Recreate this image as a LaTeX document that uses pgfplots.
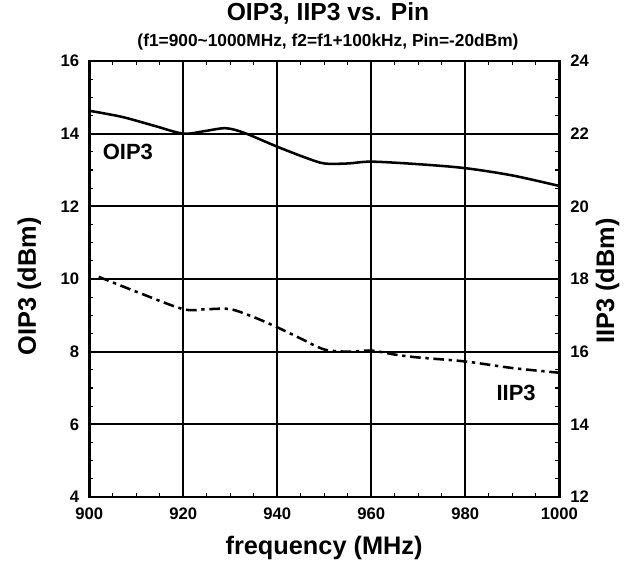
\documentclass[border=0pt]{standalone}
\usepackage{pgfplots}
\pgfplotsset{compat=1.18}
\usepackage{fontspec}
\setmainfont{Liberation Sans}

\begin{document}
\begin{tikzpicture}
\useasboundingbox (-67pt,-47.25pt) rectangle (408.5pt,372.75pt);
\pgfplotsset{
  frame/.style={
    at={(0,0)}, anchor=south west,
    scale only axis, width=352.5pt, height=327pt,
    xmin=900, xmax=1000,
    xtick={900,920,...,1000},
    minor x tick num=3, minor y tick num=3,
    major tick length=0pt, minor tick length=3pt,
    tick align=inside,
    tick style={black, line width=0.9pt},
    axis line style={line width=2.2pt},
    ticklabel style={font=\bfseries\fontsize{12.5}{13}\selectfont, inner sep=0pt},
    xticklabel style={anchor=center, yshift=-12.5pt},
    /pgf/number format/assume math mode=true,
    /pgf/number format/1000 sep={},
    label style={font=\bfseries\fontsize{19}{20}\selectfont},
  },
}
\begin{axis}[frame,
  ymin=4, ymax=16, ytick={4,6,...,16},
  yticklabel style={anchor=east, xshift=-7.5pt},
  grid=major, major grid style={black, line width=1.3pt},
  xlabel={frequency (MHz)},
  xlabel style={at={(rel axis cs:0.4995,0)}, anchor=center, yshift=-38pt},
]
\addplot[black, line width=1.9pt, smooth, tension=0.5] coordinates {
  (900,14.63) (907,14.46) (914,14.21) (920,14.0) (924.5,14.07) (929,14.15)
  (933,14.02) (940,13.64) (946,13.34) (950,13.18) (955,13.18) (960,13.23)
  (970,13.16) (980,13.05) (990,12.85) (1000,12.56)
};
\node[font=\bfseries\fontsize{16.5}{17}\selectfont] at (axis cs:908.2,13.5) {OIP3};
\end{axis}
\begin{axis}[frame,
  ymin=12, ymax=24, ytick={12,14,...,24},
  yticklabel style={anchor=west, xshift=8pt},
  axis x line=none, axis y line*=right,
]
\addplot[black, line width=1.9pt, smooth, tension=0.5,
  dash pattern=on 8pt off 3.5pt on 2.5pt off 3.5pt] coordinates {
  (902,18.06) (910,17.65) (920,17.17) (925,17.17) (930,17.17) (935,16.95)
  (940,16.67) (945,16.36) (950,16.06) (955,16.0) (960,16.03) (965,15.92)
  (970,15.84) (980,15.73) (990,15.55) (1000,15.42)
};
\node[font=\bfseries\fontsize{16.5}{17}\selectfont] at (axis cs:990.8,14.87) {IIP3};
\end{axis}
\node[font=\bfseries\fontsize{19}{20}\selectfont, rotate=90] at (-45pt,158pt) {OIP3 (dBm)};
\node[font=\bfseries\fontsize{19}{20}\selectfont, rotate=90] at (388.7pt,162pt) {IIP3 (dBm)};
\node[font=\bfseries\fontsize{18.5}{19}\selectfont] at (179pt,362.75pt) {OIP3, IIP3 vs. Pin};
\node[font=\bfseries\fontsize{13}{14}\selectfont] at (179pt,341.5pt) {(f1=900\textasciitilde1000MHz, f2=f1+100kHz, Pin=-20dBm)};
\end{tikzpicture}
\end{document}
